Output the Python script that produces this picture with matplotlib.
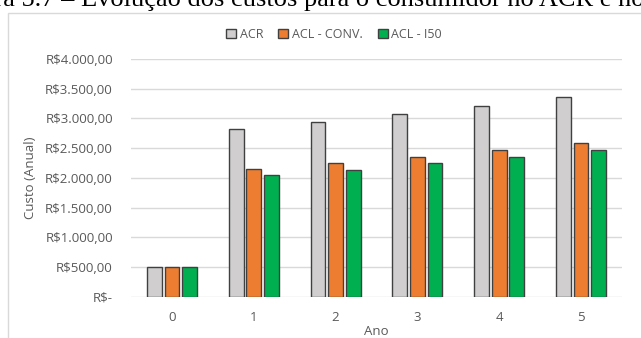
import numpy as np
import matplotlib.pyplot as plt
from matplotlib.patches import Rectangle
from matplotlib.ticker import FuncFormatter

anos = ["0", "1", "2", "3", "4", "5"]
acr = [500, 2820, 2940, 3070, 3210, 3360]
acl_conv = [500, 2150, 2255, 2355, 2465, 2580]
acl_i50 = [500, 2040, 2140, 2250, 2355, 2465]

series = [("ACR", acr, "#d0cece"), ("ACL - CONV.", acl_conv, "#ed7d31"), ("ACL - I50", acl_i50, "#00b050")]

plt.rcParams["font.family"] = ["Open Sans", "DejaVu Sans"]
grey = "#595959"

fig = plt.figure(figsize=(6.41, 3.38), dpi=100)

# caption cut off at the top of the page
fig.text(-0.085, 0.982, "Figura 5.7 \u2013 Evolução dos custos para o consumidor no ACR e no ACL",
         fontfamily="Liberation Serif", fontsize=19, color="black", va="baseline")

# chart frame
fig.patches.append(Rectangle((8 / 641, -0.1), 1.2, (338 - 13) / 338 + 0.1, transform=fig.transFigure,
                             fill=False, edgecolor="#d9d9d9", linewidth=1))

ax = fig.add_axes([131 / 641, (338 - 296.7) / 338, 491 / 641, (296.7 - 59) / 338])
x = np.arange(len(anos))
w = 0.18
step = 0.215
for i, (name, vals, col) in enumerate(series):
    ax.bar(x + (i - 1) * step, vals, w, color=col, edgecolor="#404040", linewidth=1, label=name, zorder=3)

ax.set_xlim(-0.5, len(anos) - 0.5)
ax.set_ylim(0, 4000)
ax.set_yticks(np.arange(0, 4001, 500))
ax.yaxis.set_major_formatter(FuncFormatter(
    lambda v, p: "R$-" if v == 0 else "R$" + f"{v:,.2f}".replace(",", "X").replace(".", ",").replace("X", ".")))
ax.set_xticks(x)
ax.set_xticklabels(anos)
ax.grid(axis="y", color="#d9d9d9", linewidth=1, zorder=0)
for s in ax.spines.values():
    s.set_visible(False)
ax.tick_params(length=0, colors=grey, labelsize=9.5)
ax.tick_params(axis="y", pad=13)
ax.tick_params(axis="x", pad=10)
ax.set_xlabel("Ano", color=grey, fontsize=9.5, labelpad=1)
ax.set_ylabel("Custo (Anual)", color=grey, fontsize=9.5, labelpad=6)

fig.legend(loc="center", bbox_to_anchor=(334 / 641, (338 - 34.5) / 338), ncol=3, frameon=False,
           fontsize=9, labelcolor=grey, handlelength=0.8, handleheight=0.8, handletextpad=0.3,
           columnspacing=1.2)

fig.savefig("out.png", dpi=100)
